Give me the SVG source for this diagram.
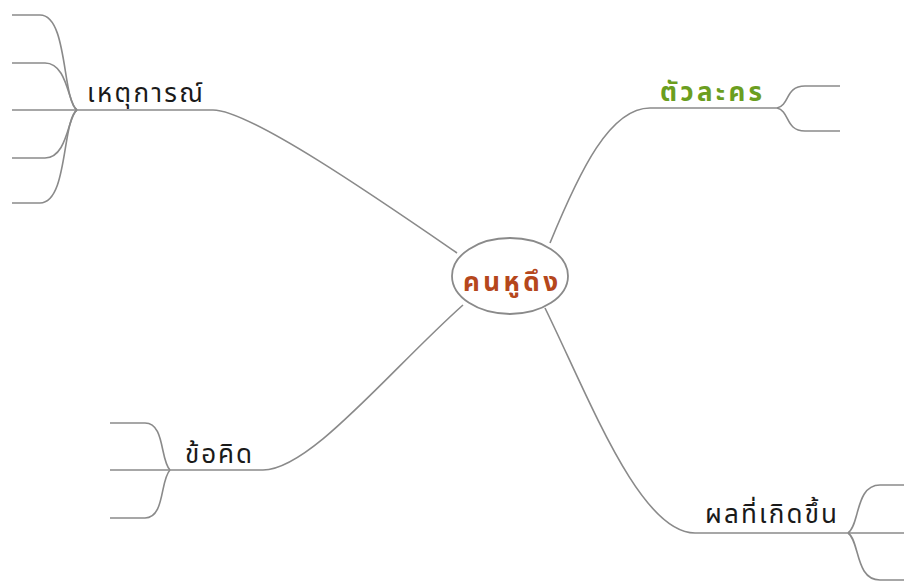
<svg xmlns="http://www.w3.org/2000/svg" width="904" height="581" viewBox="0 0 904 581">
<style>
.ln{fill:none;stroke:#8a8a8a;stroke-width:1.6}
.lbl{font-family:"Noto Sans Thai","Tahoma","DejaVu Sans",sans-serif;font-size:26px;fill:#1a1a1a}
.bold{font-weight:bold}
</style>
<rect width="904" height="581" fill="#ffffff"/>
<g id="connectors">
<path class="ln" d="M213,110 C250,110 380,200 457,253"/>
<path class="ln" d="M12,110 H213"/>
<path class="ln" d="M77,110 C62,100 68,15 40,15 H12"/>
<path class="ln" d="M77,110 C68,105 68,63 45,63 H12"/>
<path class="ln" d="M77,110 C68,115 68,158 45,158 H12"/>
<path class="ln" d="M77,110 C62,120 68,203 40,203 H12"/>
<path class="ln" d="M550,243 C580,170 610,108 650,108 H777"/>
<path class="ln" d="M777,108 C790,105 785,86 805,86 H840"/>
<path class="ln" d="M777,108 C790,111 785,131 805,131 H840"/>
<path class="ln" d="M463,305 C390,370 310,470 263,470 H110"/>
<path class="ln" d="M170,470 C160,460 165,423 145,423 H110"/>
<path class="ln" d="M170,470 C160,480 165,518 145,518 H110"/>
<path class="ln" d="M545,308 C590,400 640,533 695,533 H904"/>
<path class="ln" d="M848,533 C860,525 855,485 880,485 H904"/>
<path class="ln" d="M848,533 C860,541 855,580 880,580 H904"/>
</g>
<g id="center">
<ellipse cx="510" cy="276" rx="58" ry="38" fill="#ffffff" stroke="#8a8a8a" stroke-width="1.8"/>
<text class="lbl bold" x="463" y="291" textLength="95" lengthAdjust="spacing" style="fill:#b5471c">คนหูดึง</text>
</g>
<g id="n-event"><text class="lbl" x="87" y="102" textLength="116" lengthAdjust="spacing">เหตุการณ์</text></g>
<g id="n-char"><text class="lbl bold" x="660" y="101" textLength="102" lengthAdjust="spacing" style="fill:#6b9e1f">ตัวละคร</text></g>
<g id="n-idea"><text class="lbl" x="185" y="463" textLength="67" lengthAdjust="spacing">ข้อคิด</text></g>
<g id="n-result"><text class="lbl" x="705" y="523" textLength="132" lengthAdjust="spacing">ผลที่เกิดขึ้น</text></g>
</svg>
